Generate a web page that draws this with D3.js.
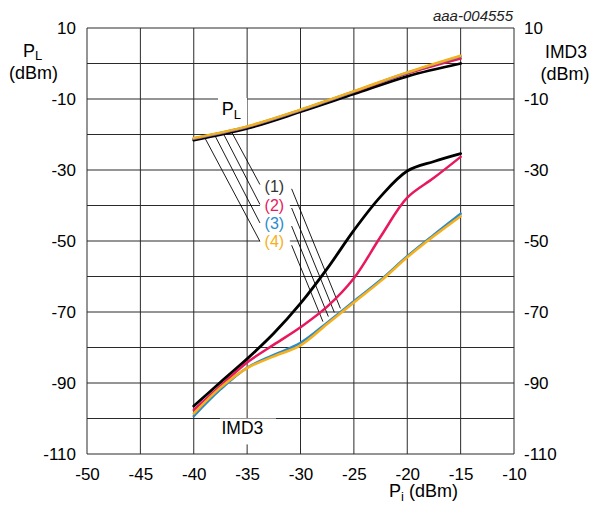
<!DOCTYPE html>
<html>
<head>
<meta charset="utf-8">
<script src="https://cdn.jsdelivr.net/npm/d3@7"></script>
<style>
  html, body { margin: 0; padding: 0; background: #fff; }
  svg { display: block; font-family: "Liberation Sans", Arial, sans-serif; }
</style>
</head>
<body>
<svg id="chart" width="595" height="505"></svg>
<script>
// Input power sweep (dBm)
const piIMD = [-40, -37.5, -35, -32.5, -30, -27.5, -25, -22.5, -20, -17.5, -15];
const piPL = [-40, -35, -30, -25, -20, -15];

// Output power P_L (dBm) for conditions (1)..(4)
const pl1 = [-21.6, -18.3, -13.6, -8.6, -3.6, 0.0];
const pl2 = [-21.2, -17.9, -13.2, -8.0, -2.8, 1.4];
const pl3 = [-21.1, -17.8, -13.1, -7.9, -2.6, 2.0];
const pl4 = [-21.0, -17.7, -13.0, -7.8, -2.5, 2.2];

// Third-order intermodulation IMD3 (dBm) for conditions (1)..(4)
const imd1 = [-96.5, -89.8, -83.2, -76.0, -67.6, -57.8, -47.0, -37.5, -30.3, -27.6, -25.4];
const imd2 = [-97.6, -90.8, -84.2, -79.2, -74.3, -68.5, -60.5, -48.8, -37.8, -32.2, -26.3];
const imd3 = [-99.3, -91.8, -85.7, -82.1, -78.7, -73.0, -67.0, -61.0, -54.3, -48.2, -42.3];
const imd4 = [-98.6, -91.3, -85.8, -82.5, -79.4, -73.4, -67.3, -61.3, -54.6, -48.6, -43.0];

const seriesNames = ["(1)", "(2)", "(3)", "(4)"];
const seriesColors = ["#000000", "#e8185c", "#2a8bcc", "#f6b01c"];
const seriesLabelColors = ["#333333", "#e8185c", "#2a8bcc", "#f6b01c"];

// Tick labels
const xTicks = [-50, -45, -40, -35, -30, -25, -20, -15, -10];
const yTicks = [10, -10, -30, -50, -70, -90, -110];
const yGrid = d3.range(-110, 11, 10);

// Leader lines: P_L label group and IMD3 label group, [x1, y1, x2, y2] in axis units
const leadersPL = [
  [-36.45, -19.3, -33.8, -34.1],
  [-37.2, -19.9, -33.8, -39.7],
  [-38.0, -20.4, -33.8, -44.9],
  [-38.95, -21.0, -33.8, -50.1]
];
const leadersIMD = [
  [-30.83, -35.3, -26.26, -69.0],
  [-30.83, -40.7, -26.83, -70.1],
  [-30.83, -45.8, -27.39, -71.3],
  [-30.83, -51.2, -27.90, -72.7]
];

const svg = d3.select("#chart");
const x = d3.scaleLinear().domain([-50, -10]).range([87, 514]);
const y = d3.scaleLinear().domain([-110, 10]).range([454, 28]);

// Grid
const grid = svg.append("g").attr("stroke", "#2a2a2a").attr("stroke-width", 1);
grid.selectAll("line.v").data(xTicks).join("line")
  .attr("x1", d => x(d)).attr("x2", d => x(d))
  .attr("y1", y(10)).attr("y2", y(-110));
grid.selectAll("line.h").data(yGrid).join("line")
  .attr("x1", x(-50)).attr("x2", x(-10))
  .attr("y1", d => y(d)).attr("y2", d => y(d));

// Axes (labels only)
const fmt = d => String(d);
function styleAxis(g) {
  g.attr("font-size", null).attr("font-family", null);
  g.select(".domain").remove();
  g.selectAll("text").attr("font-size", "17px").attr("fill", "#000");
}
svg.append("g").attr("transform", `translate(${x(-50)},0)`)
  .call(d3.axisLeft(y).tickValues(yTicks).tickSize(0).tickPadding(11).tickFormat(fmt))
  .call(styleAxis);
svg.append("g").attr("transform", `translate(${x(-10)},0)`)
  .call(d3.axisRight(y).tickValues(yTicks).tickSize(0).tickPadding(10).tickFormat(fmt))
  .call(styleAxis);
svg.append("g").attr("transform", `translate(0,${y(-110)})`)
  .call(d3.axisBottom(x).tickValues(xTicks).tickSize(0).tickPadding(13.5).tickFormat(fmt))
  .call(styleAxis);

// White boxes behind in-plot labels
const boxes = [
  [-37.73, -9.7, -35.0, -17.9],   // P_L
  [-33.8, -32.8, -31.0, -53.1],   // (1)..(4)
  [-37.55, -100.0, -32.3, -107.3] // IMD3
];
svg.append("g").selectAll("rect").data(boxes).join("rect")
  .attr("x", d => x(d[0])).attr("y", d => y(d[1]))
  .attr("width", d => x(d[2]) - x(d[0])).attr("height", d => y(d[3]) - y(d[1]))
  .attr("fill", "#fff");

// Leader lines
const lead = svg.append("g").attr("stroke", "#000").attr("stroke-width", 0.9);
lead.selectAll("line").data(leadersPL.concat(leadersIMD)).join("line")
  .attr("x1", d => x(d[0])).attr("y1", d => y(d[1]))
  .attr("x2", d => x(d[2])).attr("y2", d => y(d[3]));

// Curves
const line = d3.line().x(d => x(d[0])).y(d => y(d[1])).curve(d3.curveCatmullRom.alpha(0.5));
const plSeries = [pl1, pl2, pl3, pl4];
const imdSeries = [imd1, imd2, imd3, imd4];
const curves = svg.append("g").attr("fill", "none").attr("stroke-linejoin", "round").attr("stroke-linecap", "round");
plSeries.forEach((s, i) => {
  curves.append("path").datum(piPL.map((p, k) => [p, s[k]]))
    .attr("d", line).attr("stroke", seriesColors[i]).attr("stroke-width", i === 0 ? 2.8 : 2.5);
});
imdSeries.forEach((s, i) => {
  curves.append("path").datum(piIMD.map((p, k) => [p, s[k]]))
    .attr("d", line).attr("stroke", seriesColors[i]).attr("stroke-width", i === 0 ? 2.8 : 2.5);
});

// Series labels
svg.append("g").selectAll("text").data(seriesNames).join("text")
  .attr("x", x(-32.45))
  .attr("y", (d, i) => y(-36.3 - i * 5.15))
  .attr("text-anchor", "middle").attr("font-size", "16px")
  .attr("fill", (d, i) => seriesLabelColors[i]).text(d => d);

// In-plot curve names
const tPL = svg.append("text").attr("x", x(-37.38)).attr("y", y(-14.5)).attr("font-size", "18px");
tPL.append("tspan").text("P");
tPL.append("tspan").attr("font-size", "13px").attr("dy", 4).text("L");
svg.append("text").attr("x", x(-37.4)).attr("y", y(-104.5)).attr("font-size", "17.5px").text("IMD3");

// Axis titles
const tL = svg.append("text").attr("x", 23).attr("y", 57).attr("font-size", "18px");
tL.append("tspan").text("P");
tL.append("tspan").attr("font-size", "13px").attr("dy", 3).text("L");
svg.append("text").attr("x", 33.5).attr("y", 79).attr("text-anchor", "middle").attr("font-size", "18px").text("(dBm)");
svg.append("text").attr("x", 566).attr("y", 58).attr("text-anchor", "middle").attr("font-size", "17.5px").text("IMD3");
svg.append("text").attr("x", 565).attr("y", 80).attr("text-anchor", "middle").attr("font-size", "18px").text("(dBm)");

const tX = svg.append("text").attr("x", 389).attr("y", 497).attr("font-size", "18px");
tX.append("tspan").text("P");
tX.append("tspan").attr("font-size", "13px").attr("dy", 4).text("i");
tX.append("tspan").attr("dy", -4).text(" (dBm)");

// Figure code
svg.append("text").attr("x", 513).attr("y", 21).attr("text-anchor", "end")
  .attr("font-size", "15px").attr("font-style", "italic").attr("fill", "#222").text("aaa-004555");
</script>
</body>
</html>
